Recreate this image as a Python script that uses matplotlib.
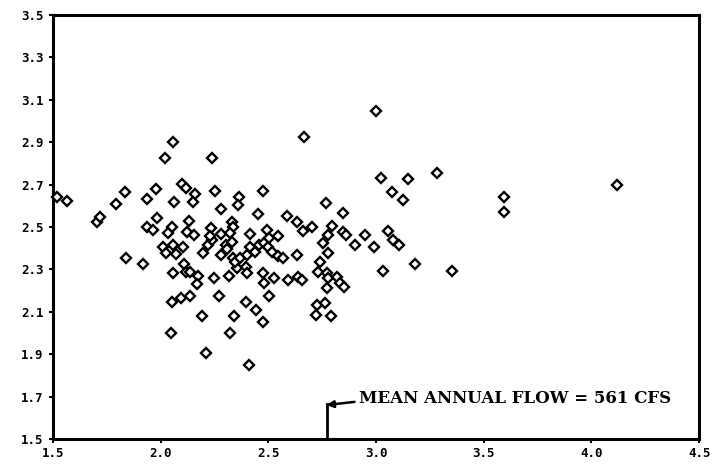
import matplotlib
matplotlib.use("Agg")
import matplotlib.pyplot as plt

# x values (log flow) and y values
x_vals = [1.520, 1.565, 1.704, 1.718, 1.793, 1.834, 1.839, 1.918, 1.937, 1.978,
          2.020, 2.057, 2.062, 2.099, 2.118, 2.160, 2.150, 1.983, 1.937, 1.965,
          2.053, 2.034, 2.132, 2.122, 2.155, 2.011, 2.025, 2.057, 2.104, 2.071,
          2.057, 2.108, 2.118, 2.136, 2.174, 2.169, 2.053, 2.095, 2.136, 2.248,
          2.271, 2.318, 2.192, 2.341, 2.048, 2.322, 2.211, 2.197, 2.220, 2.239,
          2.280, 2.304, 2.331, 2.336, 2.355, 2.345, 2.280, 2.239, 2.253, 2.280,
          2.364, 2.359, 2.234, 2.229, 2.331, 2.336, 2.322, 2.415, 2.308, 2.369,
          2.396, 2.401, 2.401, 2.415, 2.438, 2.457, 2.480, 2.499, 2.517, 2.545,
          2.568, 2.633, 2.592, 2.638, 2.657, 2.480, 2.475, 2.527, 2.503, 2.396,
          2.443, 2.475, 2.410, 2.494, 2.503, 2.661, 2.545, 2.587, 2.633, 2.703,
          2.796, 2.847, 2.861, 2.903, 2.475, 2.452, 2.768, 2.847, 2.666, 3.000,
          3.024, 3.149, 3.284, 3.075, 3.126, 3.595, 3.595, 4.120, 2.949, 2.991,
          3.056, 3.079, 3.107, 3.033, 3.181, 3.353, 2.740, 2.777, 2.754, 2.777,
          2.731, 2.773, 2.777, 2.773, 2.819, 2.833, 2.852, 2.726, 2.722, 2.763,
          2.791]
y_vals = [2.641, 2.623, 2.524, 2.547, 2.608, 2.665, 2.354, 2.325, 2.632, 2.679,
          2.825, 2.901, 2.618, 2.703, 2.684, 2.656, 2.618, 2.542, 2.500, 2.486,
          2.500, 2.472, 2.528, 2.476, 2.462, 2.406, 2.377, 2.415, 2.406, 2.373,
          2.283, 2.325, 2.288, 2.288, 2.269, 2.231, 2.146, 2.165, 2.175, 2.259,
          2.175, 2.269, 2.080, 2.080, 2.000, 2.000, 1.906, 2.377, 2.415, 2.439,
          2.368, 2.415, 2.429, 2.354, 2.307, 2.335, 2.467, 2.825, 2.670, 2.585,
          2.641, 2.604, 2.495, 2.458, 2.524, 2.500, 2.472, 2.467, 2.396, 2.354,
          2.311, 2.283, 2.368, 2.406, 2.382, 2.415, 2.424, 2.406, 2.382, 2.363,
          2.354, 2.368, 2.250, 2.264, 2.250, 2.236, 2.283, 2.259, 2.175, 2.146,
          2.108, 2.052, 1.849, 2.486, 2.448, 2.481, 2.458, 2.552, 2.524, 2.500,
          2.505, 2.476, 2.462, 2.415, 2.670, 2.561, 2.613, 2.566, 2.925, 3.047,
          2.731, 2.726, 2.755, 2.665, 2.627, 2.641, 2.571, 2.698, 2.462, 2.406,
          2.481, 2.439, 2.415, 2.292, 2.325, 2.292, 2.335, 2.377, 2.424, 2.462,
          2.288, 2.283, 2.259, 2.212, 2.264, 2.236, 2.217, 2.132, 2.085, 2.141,
          2.080]

x_ticks = [1.5, 2.0, 2.5, 3.0, 3.5, 4.0, 4.5]
x_tick_labels = ["1.5", "2.0", "2.5", "3.0", "3.5", "4.0", "4.5"]
y_ticks = [1.5, 1.7, 1.9, 2.1, 2.3, 2.5, 2.7, 2.9, 3.1, 3.3, 3.5]
y_tick_labels = ["1.5", "1.7", "1.9", "2.1", "2.3", "2.5", "2.7", "2.9", "3.1", "3.3", "3.5"]

mean_flow_x = 2.77
mean_flow_label = "MEAN ANNUAL FLOW = 561 CFS"

fig = plt.figure(figsize=(7.14, 4.66), dpi=100)
ax = fig.add_axes([0.0742, 0.058, 0.905, 0.910])

ax.plot(x_vals, y_vals, linestyle="none", marker="D", markersize=5.2,
        markerfacecolor="white", markeredgecolor="black", markeredgewidth=1.7,
        clip_on=False, zorder=3)

ax.set_xlim(1.5, 4.5)
ax.set_ylim(1.5, 3.5)
ax.set_xticks(x_ticks)
ax.set_xticklabels(x_tick_labels)
ax.set_yticks(y_ticks)
ax.set_yticklabels(y_tick_labels)
for lab in ax.get_xticklabels() + ax.get_yticklabels():
    lab.set_fontfamily("DejaVu Sans Mono")
    lab.set_fontweight("bold")
    lab.set_fontsize(9)
ax.tick_params(axis="both", direction="out", length=3, width=1.5, color="black")
ax.tick_params(axis="x", pad=3)
ax.tick_params(axis="y", pad=4)
for sp in ax.spines.values():
    sp.set_linewidth(2.2)
    sp.set_color("black")

# mean annual flow marker
ax.plot([mean_flow_x, mean_flow_x], [1.5, 1.665], color="black", linewidth=2)
ax.annotate("", xy=(mean_flow_x, 1.66), xytext=(mean_flow_x + 0.13, 1.675),
            arrowprops=dict(arrowstyle="-|>", color="black", lw=1.8,
                            mutation_scale=10, shrinkA=0, shrinkB=0))
ax.text(mean_flow_x + 0.15, 1.69, mean_flow_label, fontfamily="DejaVu Serif",
        fontweight="bold", fontsize=12, va="center", ha="left")

fig.savefig("out.png", dpi=100, facecolor="white")
